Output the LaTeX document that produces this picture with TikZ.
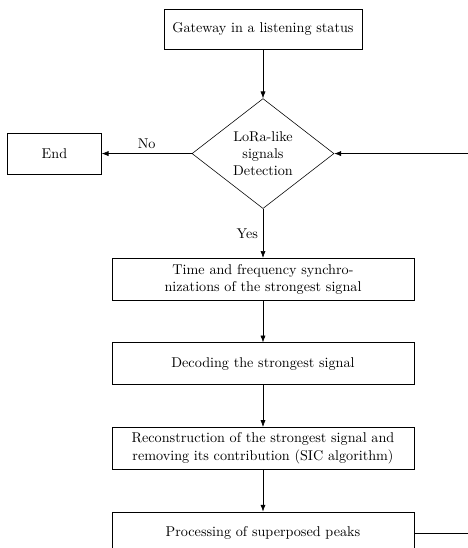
\documentclass[tikz,border=0pt]{standalone}
\usepackage{tikz}
\usetikzlibrary{positioning,arrows.meta,shapes.geometric,calc}
\newcommand{\pxu}{0.705pt}

\begin{document}
\begin{tikzpicture}[
  node distance=42*\pxu,
  box/.style={rectangle,draw,align=center,minimum width=302*\pxu,minimum height=42*\pxu,inner sep=2pt},
  decision/.style={diamond,draw,align=center,aspect=1.3,inner sep=1pt,minimum width=142*\pxu,minimum height=110*\pxu},
  arr/.style={-Latex,draw}
]
\useasboundingbox (-263*\pxu,29*\pxu) rectangle (204*\pxu,-519*\pxu);
\node[box,minimum width=198*\pxu,minimum height=40*\pxu] (listen) at (0,0) {Gateway in a listening status};
\node[decision,below=49*\pxu of listen] (detect) {LoRa-like\\signals\\Detection};
\node[box,minimum width=94*\pxu,minimum height=41*\pxu,left=90*\pxu of detect] (stop) {End};
\node[box,below=49*\pxu of detect] (sync) {Time and frequency synchro-\\nizations of the strongest signal};
\node[box,below=of sync] (decode) {Decoding the strongest signal};
\node[box,below=of decode] (sic) {Reconstruction of the strongest signal and\\removing its contribution (SIC algorithm)};
\node[box,below=of sic] (peaks) {Processing of superposed peaks};
\coordinate (loopin) at ($(detect.east)+(136*\pxu,0)$);
\coordinate (loopout) at ($(peaks.east)+(58*\pxu,0)$);
\draw[arr] (listen) -- (detect);
\draw[arr] (detect) -- node[above] {No} (stop);
\draw[arr] (detect) -- node[left] {Yes} (sync);
\draw[arr] (sync) -- (decode);
\draw[arr] (decode) -- (sic);
\draw[arr] (sic) -- (peaks);
\draw[arr] (loopin) -- (detect);
\draw (peaks) -- (loopout);
\end{tikzpicture}
\end{document}
